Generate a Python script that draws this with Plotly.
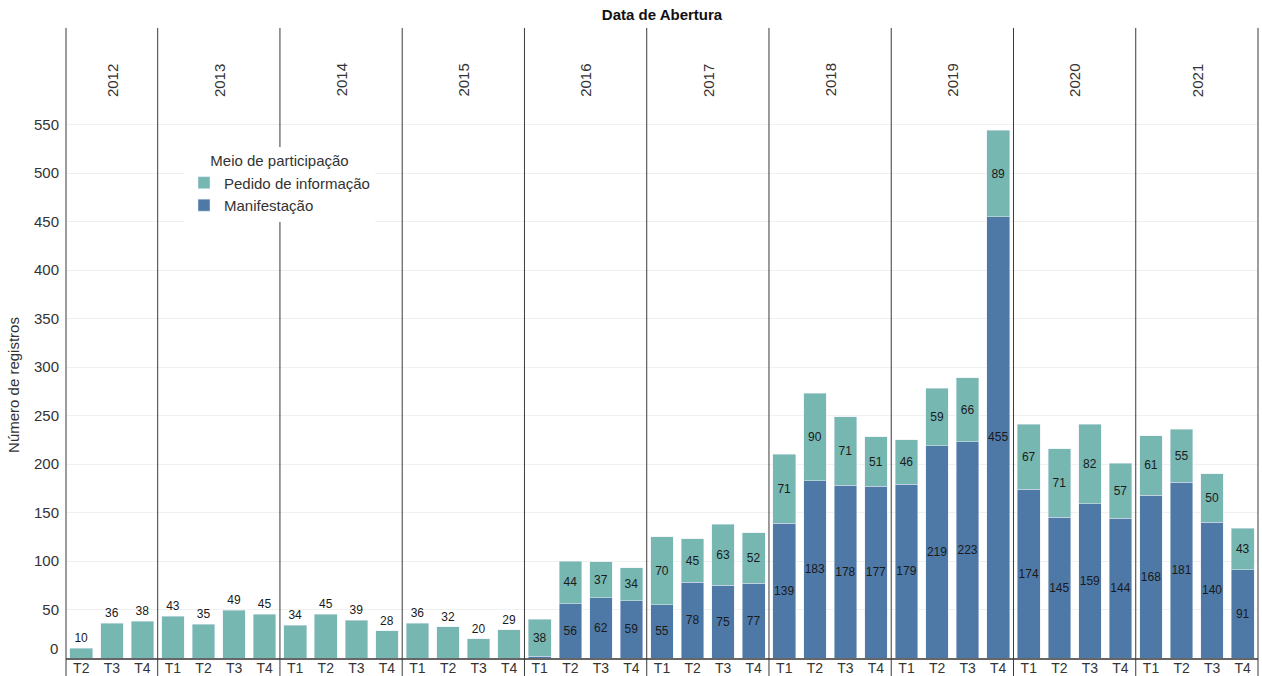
import plotly.graph_objects as go

# Quarters of each year (2012 starts in the second quarter)
years = ["2012", "2013", "2014", "2015", "2016", "2017", "2018", "2019", "2020", "2021"]
quarters_2012 = ["T2", "T3", "T4"]
quarters_full = ["T1", "T2", "T3", "T4"]

# Records per quarter by participation channel
pedido = [
    10, 36, 38,
    43, 35, 49, 45,
    34, 45, 39, 28,
    36, 32, 20, 29,
    38, 44, 37, 34,
    70, 45, 63, 52,
    71, 90, 71, 51,
    46, 59, 66, 89,
    67, 71, 82, 57,
    61, 55, 50, 43,
]
manifestacao = [
    None, None, None,
    None, None, None, None,
    None, None, None, None,
    None, None, None, None,
    2, 56, 62, 59,
    55, 78, 75, 77,
    139, 183, 178, 177,
    179, 219, 223, 455,
    174, 145, 159, 144,
    168, 181, 140, 91,
]

y_ticks = [50, 100, 150, 200, 250, 300, 350, 400, 450, 500, 550]

TEAL = "#76b7b2"
BLUE = "#4e79a7"
FONT = "Liberation Sans, Arial, sans-serif"
TXT = "#333333"

# Build the quarter sequence and the year groups
year_quarters = [quarters_2012] + [quarters_full] * (len(years) - 1)
tick_text, groups = [], []
for yr, qs in zip(years, year_quarters):
    start = len(tick_text)
    tick_text.extend(qs)
    groups.append((yr, start, len(tick_text) - 1))
xs = list(range(len(tick_text)))

# Labels: thin segments stay unlabeled; single bars get their label on top
man_text = [str(v) if v is not None and v > 5 else "" for v in manifestacao]
ped_text = [str(v) for v in pedido]
ped_pos = ["outside" if m is None else "inside" for m in manifestacao]

label_font = dict(family=FONT, size=12, color="#1a1a1a")

fig = go.Figure()
fig.add_trace(go.Bar(
    x=xs, y=manifestacao, name="Manifestação", marker_color=BLUE,
    text=man_text, textposition="inside", insidetextanchor="middle",
    textangle=0, textfont=label_font, constraintext="none", hoverinfo="skip",
))
fig.add_trace(go.Bar(
    x=xs, y=pedido, name="Pedido de informação", marker_color=TEAL,
    text=ped_text, textposition=ped_pos, insidetextanchor="middle",
    textangle=0, textfont=label_font, constraintext="none",
    cliponaxis=False, hoverinfo="skip",
))

# Year header labels and vertical separators between years
line_style = dict(color="#3a3a3a", width=1)
y_bottom, y_top = -0.04, 1.154
for yr, a, b in groups:
    fig.add_annotation(
        x=(a + b) / 2, y=1.092, xref="x", yref="paper", text=yr, textangle=-90,
        showarrow=False, font=dict(family=FONT, size=15, color=TXT),
    )
for yr, a, b in groups[1:]:
    fig.add_shape(type="line", xref="x", yref="paper", x0=a - 0.5, x1=a - 0.5,
                  y0=y_bottom, y1=y_top, line=line_style, layer="above")
for xp in (0, 1):
    fig.add_shape(type="line", xref="paper", yref="paper", x0=xp, x1=xp,
                  y0=y_bottom, y1=y_top, line=line_style, layer="above")

# Zero tick label sits just above the baseline
fig.add_annotation(
    x=0, y=0, xref="paper", yref="y", text="0", showarrow=False,
    xanchor="right", yanchor="middle", xshift=-6, yshift=10,
    font=dict(family=FONT, size=15, color=TXT),
)

fig.update_layout(
    width=1262, height=676,
    margin=dict(l=66, r=4, t=112, b=18),
    barmode="stack", bargap=0.26,
    plot_bgcolor="white", paper_bgcolor="white",
    font=dict(family=FONT, size=15, color=TXT),
    title=dict(text="<b>Data de Abertura</b>", x=0.5, xref="paper", xanchor="center",
               y=1 - 15 / 676, yanchor="middle",
               font=dict(family=FONT, size=15, color="#111111")),
    showlegend=True,
    legend=dict(
        x=0.099, y=0.936, xanchor="left", yanchor="top",
        bgcolor="white", borderwidth=0, traceorder="reversed",
        title=dict(text="Meio de participação", side="top center",
                   font=dict(family=FONT, size=15, color=TXT)),
        font=dict(family=FONT, size=15, color=TXT),
        itemwidth=30, tracegroupgap=0,
    ),
    xaxis=dict(
        tickmode="array", tickvals=xs, ticktext=tick_text,
        range=[-0.5, len(xs) - 0.5], showgrid=False, zeroline=False,
        showline=True, linecolor="#666666", linewidth=1.5, ticks="",
        ticklabelstandoff=-4,
        tickfont=dict(family=FONT, size=14, color=TXT), automargin=False,
    ),
    yaxis=dict(
        range=[0, 563], tickmode="array", tickvals=y_ticks,
        showgrid=True, gridcolor="#f0f0f0", gridwidth=1, zeroline=False,
        ticks="", ticklabelstandoff=6,
        tickfont=dict(family=FONT, size=15, color=TXT), automargin=False,
        title=dict(text="Número de registros", standoff=10,
                   font=dict(family=FONT, size=15, color=TXT)),
    ),
)

fig.write_html("out.html")
